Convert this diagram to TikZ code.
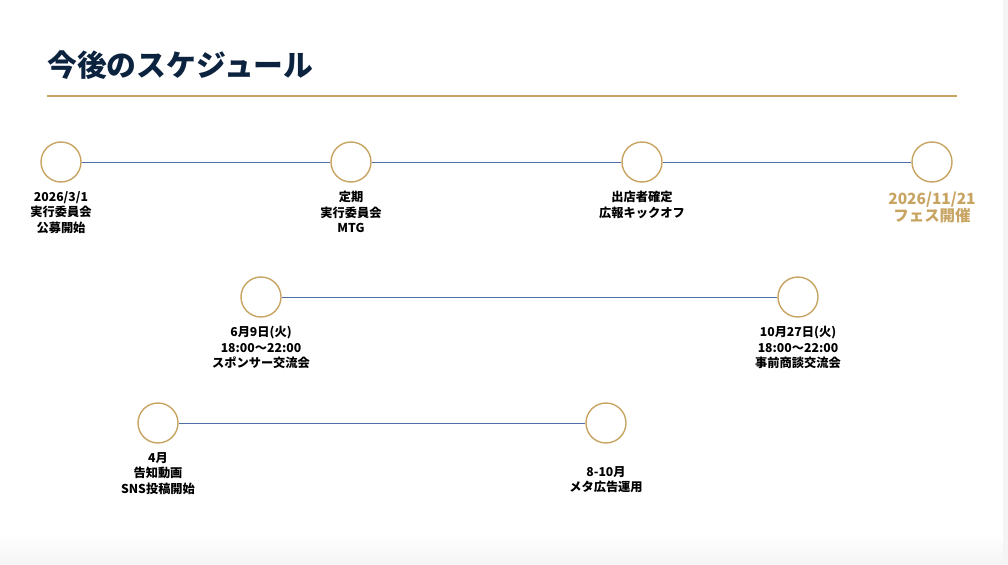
\documentclass[tikz,border=0pt]{standalone}
\usepackage{fontspec}
\setmainfont{Noto Sans CJK JP}
\usetikzlibrary{positioning}
\definecolor{navy}{HTML}{0C2340}
\definecolor{gold}{HTML}{C8A463}
\definecolor{lineblue}{HTML}{4E6FA6}
\definecolor{edgegray}{HTML}{F4F4F4}
\tikzset{
  stop/.style={circle, draw=gold, line width=1pt, minimum size=1cm, inner sep=0pt},
  link/.style={lineblue, line width=0.7pt},
  lbl/.style={align=center, font=\fontsize{8.7}{11}\selectfont\bfseries, inner sep=0pt},
  festlbl/.style={align=center, font=\fontsize{11}{12.2}\selectfont\bfseries, text=gold, inner sep=0pt}
}
\begin{document}
\begin{tikzpicture}[x=0.025cm, y=-0.025cm]
    \useasboundingbox (0,0) rectangle (1008,565);
    \fill[edgegray] (1003,0) rectangle (1008,565);
    \shade[top color=white, bottom color=edgegray] (0,535) rectangle (1003,565);
    % title
    \node[anchor=west, inner sep=0pt, text=navy, font=\fontsize{21.2}{24}\selectfont\bfseries] (title) at (47,65) {今後のスケジュール};
    \draw[gold, line width=1pt] (47,96) -- (957,96);
    % top row
    \node[stop] (start) at (61,162) {};
    \node[stop] (mtg) at (351,162) {};
    \node[stop] (kickoff) at (642,162) {};
    \node[stop] (fest) at (932,162) {};
    \draw[link] (start) -- (mtg);
    \draw[link] (mtg) -- (kickoff);
    \draw[link] (kickoff) -- (fest);
    \node[lbl, below=6pt of start] (startlbl) {2026/3/1\\実行委員会\\公募開始};
    \node[lbl, below=6pt of mtg] (mtglbl) {定期\\実行委員会\\MTG};
    \node[lbl, below=6pt of kickoff] (kickofflbl) {出店者確定\\広報キックオフ};
    \node[festlbl, below=6.5pt of fest] (festlbl) {2026/11/21\\フェス開催};
    % middle row
    \node[stop] (sponsor) at (261,297) {};
    \node[stop] (meeting) at (798,297) {};
    \draw[link] (sponsor) -- (meeting);
    \node[lbl, below=6pt of sponsor] (sponsorlbl) {6月9日(火)\\18:00〜22:00\\スポンサー交流会};
    \node[lbl, below=6pt of meeting] (meetinglbl) {10月27日(火)\\18:00〜22:00\\事前商談交流会};
    % bottom row
    \node[stop] (video) at (158,423) {};
    \node[stop] (ads) at (606,423) {};
    \draw[link] (video) -- (ads);
    \node[lbl, below=6pt of video] (videolbl) {4月\\告知動画\\SNS投稿開始};
    \node[lbl, below=16pt of ads] (adslbl) {8-10月\\メタ広告運用};
\end{tikzpicture}
\end{document}
